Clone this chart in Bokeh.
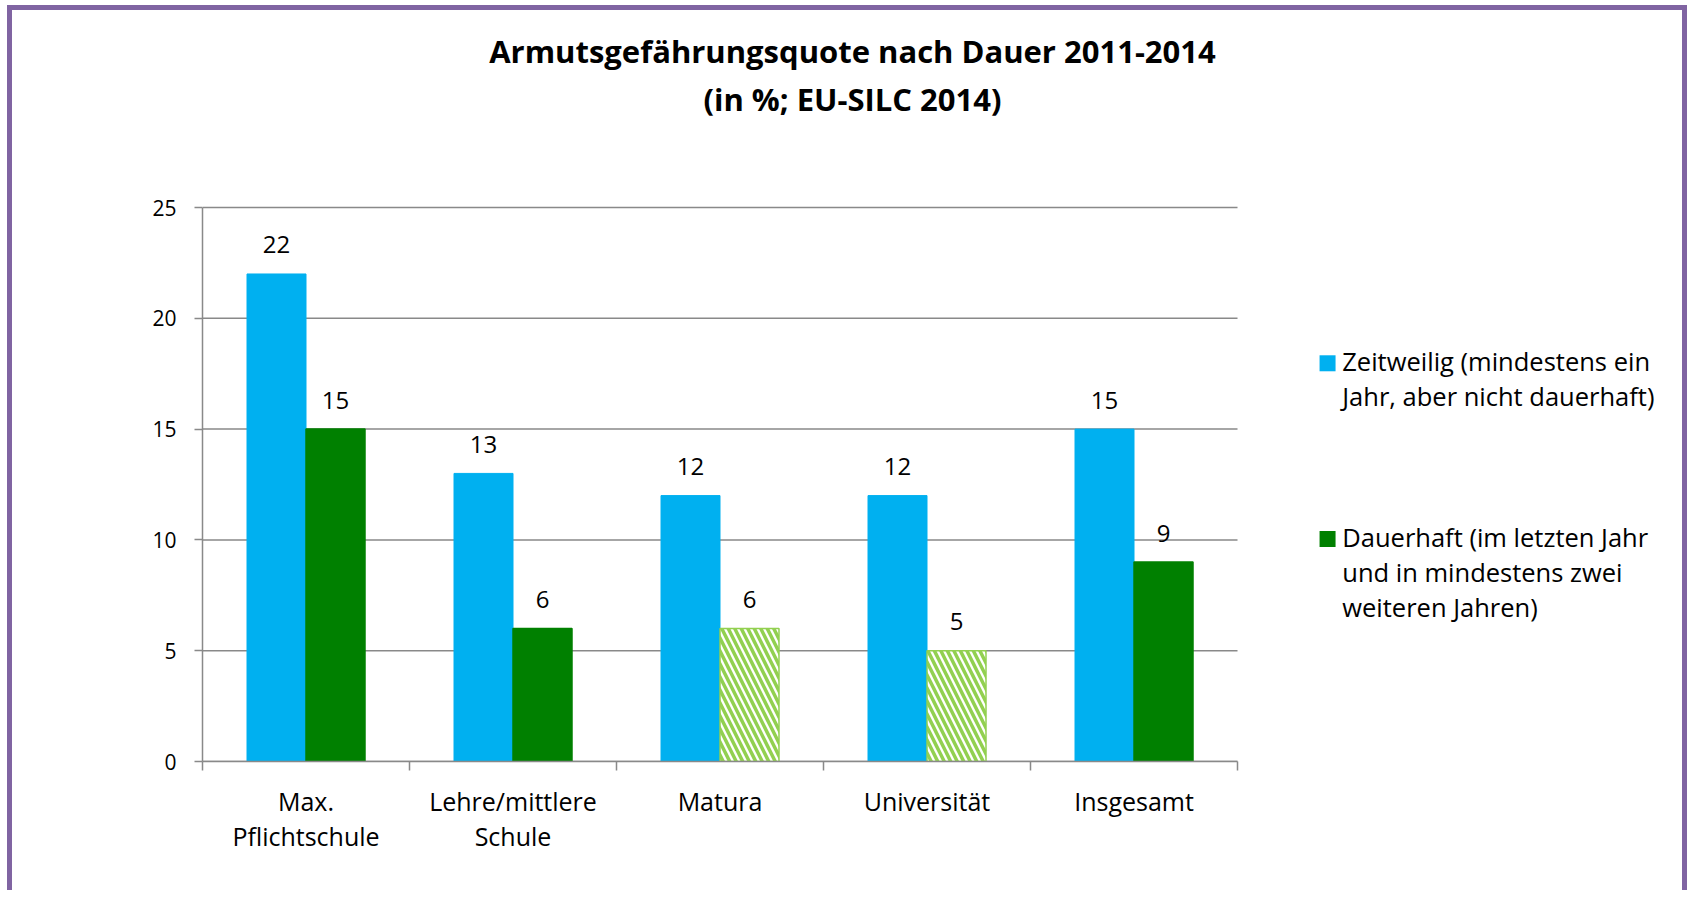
from bokeh.plotting import figure
from bokeh.models import Range1d, FixedTicker, ColumnDataSource
from bokeh.core.properties import value
from bokeh.embed import file_html
from bokeh.resources import INLINE

# ---- data ----
categories = ["Max.\nPflichtschule", "Lehre/mittlere\nSchule", "Matura", "Universität", "Insgesamt"]
zeitweilig = [22, 13, 12, 12, 15]
dauerhaft = [15, 6, 6, 5, 9]
dauerhaft_unsicher = [False, False, True, True, False]   # hatched bars (small sample)
series_names = ["Zeitweilig (mindestens ein\nJahr, aber nicht dauerhaft)",
                "Dauerhaft (im letzten Jahr\nund in mindestens zwei\nweiteren Jahren)"]
title_lines = ["Armutsgefährungsquote nach Dauer 2011-2014", "(in %; EU-SILC 2014)"]
y_ticks = [0, 5, 10, 15, 20, 25]

FONT = "Open Sans"
BLUE = "#00B0F0"
GREEN = "#008000"
LIGHT = "#92D050"
GRID = "#898989"
PURPLE = "#8064A2"

n = len(categories)
W, H = 1680, 885
p = figure(width=W, height=H, output_backend="svg", toolbar_location=None,
           x_range=Range1d(0, 7.198), y_range=Range1d(0, 33.89),
           min_border_left=190, min_border_top=0, min_border_bottom=134,
           min_border_right=0)
p.styles = {"border-left": f"5px solid {PURPLE}", "border-top": f"5px solid {PURPLE}",
            "border-right": f"5px solid {PURPLE}", "margin-left": "7px", "margin-top": "5px"}
p.outline_line_color = None
p.background_fill_color = "white"
p.border_fill_color = "white"
p.xgrid.visible = False
p.ygrid.visible = False

# gridlines limited to the category area
p.segment(x0=0, x1=n, y0=y_ticks, y1=y_ticks, line_color=GRID, line_width=1.5)

bw = 0.285
idx = list(range(n))
xb = [i + 0.5 - bw / 2 for i in idx]
xg = [i + 0.5 + bw / 2 for i in idx]

src_b = ColumnDataSource(dict(x=xb, top=zeitweilig, lab=[str(v) for v in zeitweilig]))
src_g = ColumnDataSource(dict(
    x=xg, top=dauerhaft, lab=[str(v) for v in dauerhaft],
    fill=["white" if u else GREEN for u in dauerhaft_unsicher],
    line=[LIGHT if u else GREEN for u in dauerhaft_unsicher],
    hatch=["left_diagonal_line" if u else " " for u in dauerhaft_unsicher],
))

rb = p.vbar(x="x", top="top", bottom=0, width=bw, source=src_b, fill_color=BLUE, line_color=BLUE)
rg = p.vbar(x="x", top="top", bottom=0, width=bw, source=src_g, fill_color="fill",
            line_color="line", line_width=1.5, hatch_pattern="hatch", hatch_color=LIGHT,
            hatch_weight=3.5, hatch_scale=13)

for s in (src_b, src_g):
    p.text(x="x", y="top", text="lab", source=s, text_align="center",
           text_baseline="alphabetic", y_offset=-29, text_font=value(FONT),
           text_font_size="24px", text_color="black")

# axes
ya = p.yaxis[0]
ya.ticker = FixedTicker(ticks=y_ticks)
ya.bounds = (0, 25)
ya.axis_line_color = GRID
ya.axis_line_width = 1.5
ya.major_tick_line_color = GRID
ya.major_tick_line_width = 1.5
ya.major_tick_out = 8
ya.major_tick_in = 0
ya.minor_tick_line_color = None
ya.major_label_standoff = 18
ya.major_label_text_font = FONT
ya.major_label_text_font_size = "21px"
ya.major_label_text_color = "black"

xa = p.xaxis[0]
xa.ticker = FixedTicker(ticks=[i + 0.5 for i in idx], minor_ticks=list(range(n + 1)))
xa.bounds = (0, n)
xa.major_label_overrides = {i + 0.5: c for i, c in zip(idx, categories)}
xa.axis_line_color = GRID
xa.axis_line_width = 1.5
xa.major_tick_line_color = None
xa.major_tick_out = 0
xa.major_tick_in = 0
xa.minor_tick_line_color = GRID
xa.minor_tick_line_width = 1.5
xa.minor_tick_out = 9
xa.minor_tick_in = 0
xa.major_label_standoff = 13
xa.major_label_text_font = FONT
xa.major_label_text_font_size = "25px"
xa.major_label_text_color = "black"
xa.major_label_text_line_height = 1.03

# title (two lines, centred over whole chart)
p.text(x=[3.14, 3.14], y=[32.07, 29.9], text=title_lines, text_align="center",
       text_baseline="middle", text_font=value(FONT), text_font_style="bold",
       text_font_size="31px", text_color="black")

# legend (keys aligned with the first line of each entry)
p.scatter(x=[5.435, 5.435], y=[17.97, 10.04], marker="square", size=16,
          fill_color=[BLUE, GREEN], line_color=None)
leg_lines, leg_y = [], []
for name, y0 in zip(series_names, [18.07, 10.13]):
    for k, line in enumerate(name.split("\n")):
        leg_lines.append(line)
        leg_y.append(y0 - k * 1.57)
p.text(x=[5.506] * len(leg_lines), y=leg_y, text=leg_lines, text_align="left",
       text_baseline="alphabetic", text_font=value(FONT), text_font_size="25.5px",
       text_color="black")

open("out.html", "w").write(file_html(p, INLINE))
